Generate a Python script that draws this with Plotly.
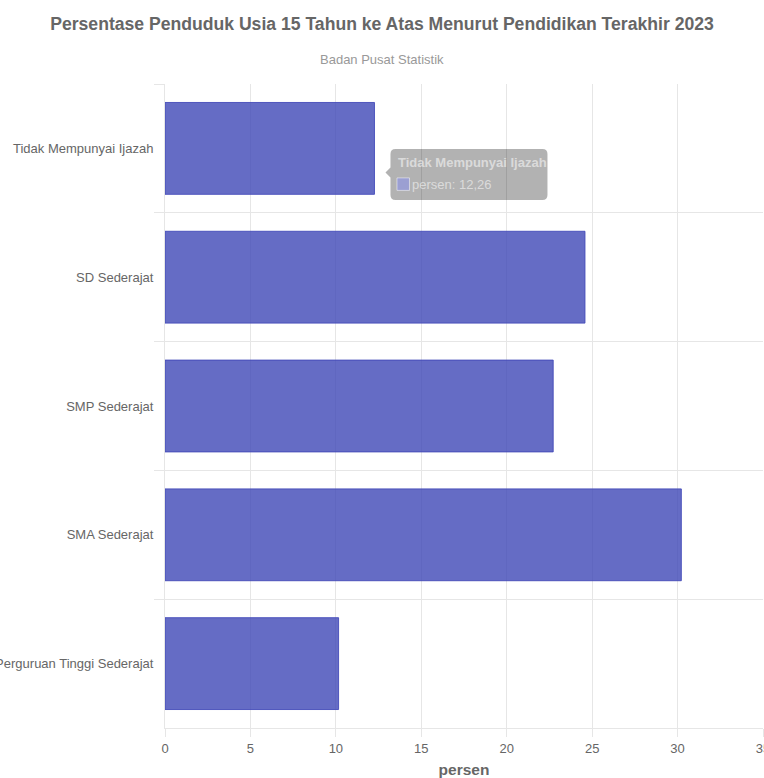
import plotly.graph_objects as go

# Persentase penduduk usia 15+ menurut pendidikan terakhir (BPS, 2023)
categories = [
    "Tidak Mempunyai Ijazah",
    "SD Sederajat",
    "SMP Sederajat",
    "SMA Sederajat",
    "Perguruan Tinggi Sederajat",
]
persen = [12.26, 24.58, 22.72, 30.22, 10.16]
x_ticks = [0, 5, 10, 15, 20, 25, 30, 35]

FONT = "Liberation Sans, Arial, sans-serif"
GRID = "#e6e6e6"
BAR_FILL = "rgba(63,71,183,0.80)"
BAR_LINE = "rgba(63,71,183,0.85)"

fig = go.Figure()
fig.add_trace(go.Bar(
    y=categories,
    x=persen,
    orientation="h",
    marker=dict(color=BAR_FILL, line=dict(color=BAR_LINE, width=1)),
    hoverinfo="skip",
    showlegend=False,
))

# Hover tooltip shown for the first category
tip_cat = categories[0]
tip_val = persen[0]
tip_path = (
    "M 11 -24 L 16 -19 L 16 -5.5 Q 16 -0.5 21 -0.5 "
    "L 168 -0.5 Q 173 -0.5 173 -5.5 L 173 -46.5 Q 173 -51.5 168 -51.5 "
    "L 21 -51.5 Q 16 -51.5 16 -46.5 L 16 -29 Z"
)
shapes = [
    dict(type="path", xref="x", yref="y", xsizemode="pixel", ysizemode="pixel",
         xanchor=tip_val, yanchor=tip_cat, path=tip_path,
         fillcolor="rgba(0,0,0,0.3)", line=dict(width=0), layer="above"),
    dict(type="rect", xref="x", yref="y", xsizemode="pixel", ysizemode="pixel",
         xanchor=tip_val, yanchor=tip_cat, x0=22.5, x1=35, y0=-29.5, y1=-42,
         fillcolor="rgba(150,155,215,0.85)",
         line=dict(color="rgba(255,255,255,0.5)", width=1), layer="above"),
]
tip_value_text = "persen: " + f"{tip_val:.2f}".replace(".", ",")

# centre of the whole page, expressed in plot-area fractions
PAGE_MID = (764 / 2 - 165) / (764 - 165 - 1)

annotations = [
    dict(text="Badan Pusat Statistik", xref="paper", yref="paper",
         x=PAGE_MID, y=1, xanchor="center", yanchor="bottom", yshift=15, showarrow=False,
         font=dict(family=FONT, size=13, color="#999999")),
    dict(text="<b>" + tip_cat + "</b>", xref="x", yref="y", x=tip_val, y=tip_cat,
         xanchor="left", yanchor="middle", xshift=22, yshift=-14, showarrow=False,
         font=dict(family=FONT, size=13, color="rgba(255,255,255,0.55)")),
    dict(text=tip_value_text, xref="x", yref="y", x=tip_val, y=tip_cat,
         xanchor="left", yanchor="middle", xshift=36, yshift=-36, showarrow=False,
         font=dict(family=FONT, size=13, color="rgba(255,255,255,0.55)")),
]

fig.update_layout(
    width=764,
    height=778,
    margin=dict(l=165, r=1, t=84, b=50, autoexpand=False),
    paper_bgcolor="white",
    plot_bgcolor="white",
    bargap=0.287,
    font=dict(family=FONT, size=13, color="#666666"),
    title=dict(
        text="<b>Persentase Penduduk Usia 15 Tahun ke Atas Menurut Pendidikan Terakhir 2023</b>",
        x=0.5, xanchor="center", y=1 - 24 / 778, yanchor="middle",
        font=dict(family=FONT, size=17.6, color="#666666"),
    ),
    xaxis=dict(
        range=[0, 35], tickvals=x_ticks, ticktext=[str(v) for v in x_ticks],
        showgrid=True, gridcolor=GRID, gridwidth=1,
        showline=True, linecolor=GRID, linewidth=1,
        ticks="outside", ticklen=8, tickcolor=GRID, tickwidth=1,
        tickfont=dict(size=13, color="#666666"),
        ticklabeloverflow="allow",
        zeroline=False, automargin=False,
        title=dict(text="<b>persen</b>", standoff=14,
                   font=dict(family=FONT, size=15.5, color="#666666")),
    ),
    yaxis=dict(
        autorange="reversed", categoryorder="array", categoryarray=categories,
        tickson="boundaries",
        showgrid=True, gridcolor=GRID, gridwidth=1,
        showline=True, linecolor=GRID, linewidth=1, mirror=False,
        ticks="outside", ticklen=10, tickcolor=GRID, tickwidth=1,
        ticklabelstandoff=8,
        tickfont=dict(size=13, color="#666666"),
        zeroline=False, automargin=False,
    ),
    shapes=shapes,
    annotations=annotations,
)

fig.write_html("out.html")
